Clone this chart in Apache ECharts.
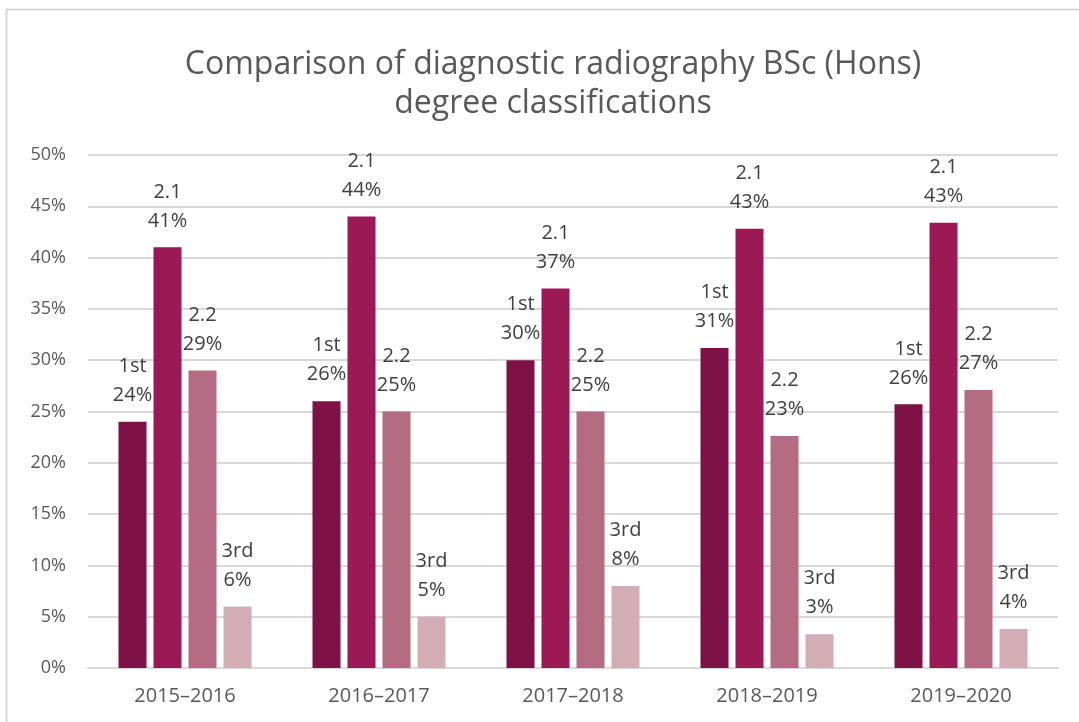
<!DOCTYPE html>
<html>
<head>
<meta charset="utf-8">
<script src="https://cdn.jsdelivr.net/npm/echarts@6/dist/echarts.min.js"></script>
<style>
  html, body { margin: 0; padding: 0; background: #fff; }
  #chart { width: 1079px; height: 722px; }
</style>
</head>
<body>
<div id="chart"></div>
<script>
// academic years
const years = ['2015–2016', '2016–2017', '2017–2018', '2018–2019', '2019–2020']
// degree classes, % of graduates
const first = [24, 26, 30, 31.2, 25.7]
const upperSecond = [41, 44, 37, 42.8, 43.4]
const lowerSecond = [29, 25, 25, 22.6, 27.1]
const third = [6, 5, 8, 3.3, 3.8]

const names = ['1st', '2.1', '2.2', '3rd']
const colors = ['#7e1145', '#9b1955', '#b56c83', '#d2adb6']
const font = '"Open Sans", "Noto Sans", sans-serif'

const chart = echarts.init(document.getElementById('chart'))

function makeSeries(name, data, color) {
  return {
    name: name,
    type: 'bar',
    data: data,
    barWidth: 28,
    barGap: '25%',
    itemStyle: { color: color },
    label: {
      show: true,
      position: 'top',
      distance: 12,
      color: '#404040',
      fontFamily: font,
      fontSize: 20,
      lineHeight: 29,
      formatter: function (p) {
        return p.seriesName + '\n' + Math.round(p.value) + '%'
      }
    }
  }
}

const option = {
  backgroundColor: '#ffffff',
  animation: false,
  title: {
    text: 'Comparison of diagnostic radiography BSc (Hons)\ndegree classifications',
    left: 548,
    textAlign: 'center',
    top: 40,
    textStyle: {
      fontFamily: font,
      fontSize: 32,
      fontWeight: 'normal',
      color: '#595959',
      lineHeight: 39
    }
  },
  graphic: [{
    type: 'rect',
    shape: { x: 6.5, y: 9.5, width: 1200, height: 900 },
    style: { fill: 'none', stroke: '#d9d9d9', lineWidth: 2 },
    silent: true
  }],
  grid: {
    left: 88,
    right: 21,
    top: 155,
    bottom: 54,
    containLabel: false
  },
  xAxis: {
    type: 'category',
    data: years,
    axisTick: { show: false },
    axisLine: { lineStyle: { color: '#d9d9d9', width: 2 } },
    axisLabel: {
      color: '#595959',
      fontFamily: font,
      fontSize: 20,
      margin: 18
    }
  },
  yAxis: {
    type: 'value',
    min: 0,
    max: 50,
    interval: 5,
    axisLine: { show: false },
    axisTick: { show: false },
    splitLine: { lineStyle: { color: '#d9d9d9', width: 2 } },
    axisLabel: {
      color: '#595959',
      fontFamily: font,
      fontSize: 18,
      margin: 22,
      formatter: '{value}%'
    }
  },
  series: [
    makeSeries(names[0], first, colors[0]),
    makeSeries(names[1], upperSecond, colors[1]),
    makeSeries(names[2], lowerSecond, colors[2]),
    makeSeries(names[3], third, colors[3])
  ]
}

chart.setOption(option)
</script>
</body>
</html>
